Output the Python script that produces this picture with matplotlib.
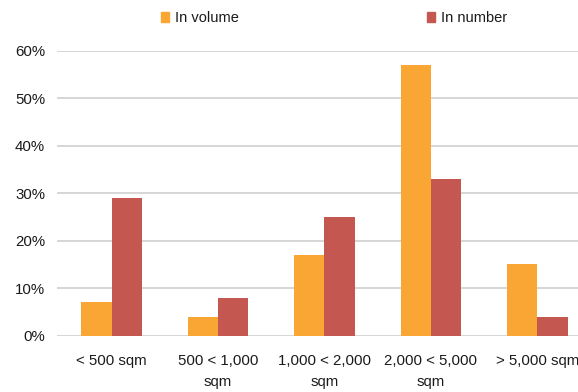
import matplotlib
matplotlib.use('Agg')
import matplotlib.pyplot as plt
import numpy as np
from matplotlib.ticker import PercentFormatter, MultipleLocator
from matplotlib.patches import Patch

plt.rcParams['font.family'] = ['Liberation Sans', 'DejaVu Sans']

# 面积段与两组占比（%）
categories = ['< 500 sqm', '500 < 1,000\nsqm', '1,000 < 2,000\nsqm',
              '2,000 < 5,000\nsqm', '> 5,000 sqm']
in_volume = [7, 4, 17, 57, 15]
in_number = [29, 8, 25, 33, 4]

series_names = ['In volume', 'In number']
colors = ['#F9A634', '#C4574F']

fig = plt.figure(figsize=(5.78, 3.92), dpi=100)
ax = fig.add_axes([0.098, 0.1436, 0.902, 0.7270])

x = np.arange(len(categories))
w = 0.285
ax.bar(x - w / 2, in_volume, width=w, color=colors[0], zorder=3)
ax.bar(x + w / 2, in_number, width=w, color=colors[1], zorder=3)

ax.set_ylim(0, 60)
ax.set_xlim(-0.517, 4.383)
ax.yaxis.set_major_locator(MultipleLocator(10))
ax.yaxis.set_major_formatter(PercentFormatter(100, decimals=0))
ax.grid(axis='y', color='#D3D3D3', linewidth=1.3, zorder=0)
ax.set_axisbelow(True)

for s in ax.spines.values():
    s.set_visible(False)
ax.tick_params(length=0, labelsize=10.8, colors='#1a1a1a')
ax.tick_params(axis='y', pad=8.4)
ax.tick_params(axis='x', pad=13)
ax.set_xticks(x)
ax.set_xticklabels(categories, linespacing=1.62)

handles = [Patch(color=c) for c in colors]
fig.legend(handles, series_names, loc='center', bbox_to_anchor=(0.578, 0.954),
           ncol=2, frameon=False, fontsize=10.5, handlelength=0.55,
           handleheight=0.75, handletextpad=0.4, columnspacing=12.9,
           labelcolor='#1a1a1a')

plt.savefig('out.png', dpi=100, facecolor='white')
plt.close()
